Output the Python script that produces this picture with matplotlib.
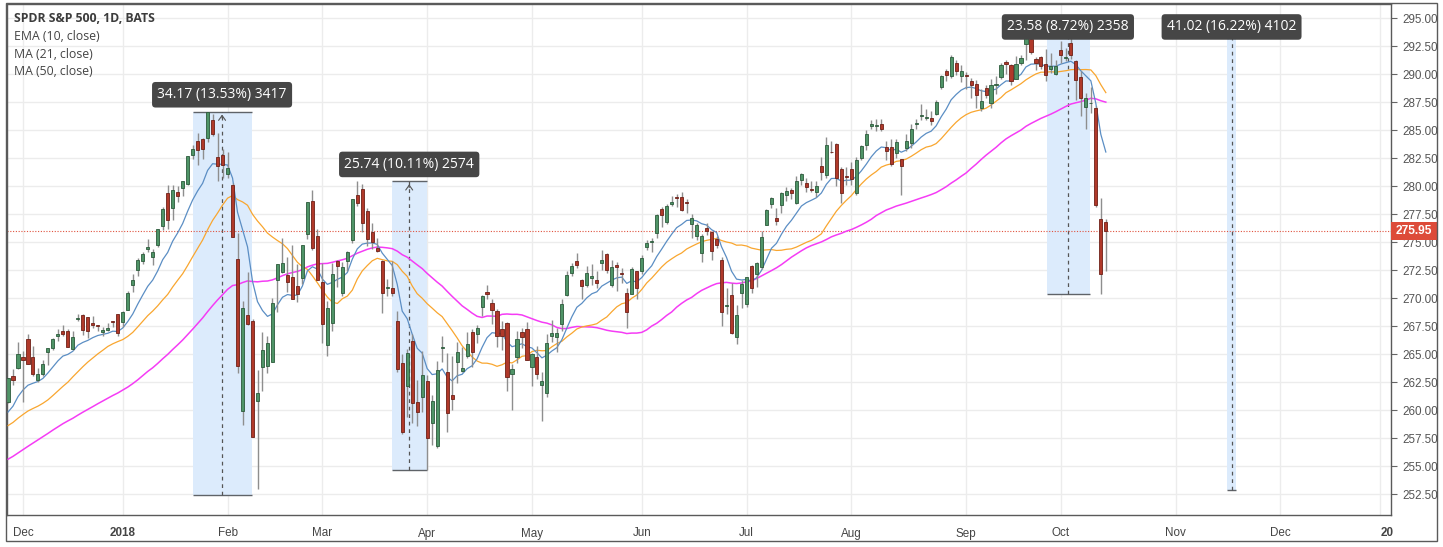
import matplotlib
matplotlib.use("Agg")
import matplotlib.pyplot as plt
import matplotlib.transforms as mtransforms
from matplotlib.patches import Rectangle
import numpy as np
import pandas as pd

# trading calendar (NYSE holidays in the window)
holidays = ["2017-12-25", "2018-01-01", "2018-01-15", "2018-02-19", "2018-03-30",
            "2018-05-28", "2018-07-04", "2018-09-03", "2018-11-22", "2018-12-25",
            "2019-01-01"]

# closes before the visible window, only needed to seed the moving averages
pre_close = [249.19, 249.63, 249.98, 250.06, 249.39, 249.44, 248.93, 249.08, 250.05, 250.35, 251.23,
             252.32, 252.86, 253.16, 254.66, 254.37, 253.95, 254.62, 255.02, 254.64, 254.95, 255.29,
             255.47, 255.72, 255.79, 257.11, 256.11, 256.56, 255.29, 255.62, 257.71, 256.75, 257.15,
             257.49, 257.59, 258.45, 258.85, 258.67, 259.11, 258.17, 258.09, 258.33, 257.73, 256.44,
             258.62, 257.86, 258.30, 260.00, 259.76, 260.36, 260.23]

# daily SPY candles, 2017-11-28 .. 2018-10-12
opens = [
    260.76, 263.02, 263.76,
    # dec
    264.76, 266.31, 264.72, 262.68, 263.20, 265.14, 265.58, 266.63, 267.06, 267.09, 265.45, 268.10,
    268.48, 268.27, 267.74, 267.60, 266.95, 267.14, 267.89, 268.53,
    # jan
    267.84, 268.96, 271.20, 272.51, 273.31, 274.40, 273.68, 274.75, 276.42, 279.35, 278.03, 279.48,
    279.80, 280.17, 282.74, 284.02, 284.16, 284.25, 285.93, 282.60, 282.73,
    # feb
    281.07, 280.08, 273.45, 259.94, 268.50, 267.97, 260.80, 263.83, 263.97, 264.31, 271.57, 272.32,
    272.03, 271.90, 271.10, 271.79, 275.75, 278.62, 275.57,
    # mar
    271.41, 265.80, 267.73, 273.30, 270.42, 273.33, 275.22, 279.20, 279.73, 277.81, 275.88, 274.50,
    273.35, 270.94, 270.90, 267.91, 264.17, 262.13, 266.17, 260.75, 261.12,
    # apr
    262.55, 258.87, 256.75, 265.55, 263.42, 261.37, 264.27, 263.47, 264.80, 267.00, 266.83, 269.17,
    270.56, 269.57, 268.81, 267.26, 267.76, 263.21, 264.76, 267.00, 267.26,
    # may
    263.87, 264.76, 262.26, 261.52, 266.65, 266.50, 267.68, 270.25, 272.25, 273.34, 271.61, 271.14,
    271.83, 271.61, 273.17, 273.96, 271.17, 272.95, 272.20, 270.44, 270.33, 272.38,
    # jun
    272.41, 274.53, 274.97, 275.79, 277.98, 276.79, 278.42, 279.00, 279.05, 278.53, 276.63, 275.50,
    274.00, 276.26, 275.89, 275.26, 273.44, 269.32, 270.23, 266.50, 270.43,
    # jul
    269.51, 272.87, 272.17, 272.76, 276.55, 278.40, 277.15, 278.28, 279.17, 279.64, 278.47, 280.56,
    280.31, 279.77, 279.45, 281.79, 280.97, 283.07, 283.71, 281.51, 280.81,
    # aug
    281.56, 279.38, 282.53, 283.64, 285.39, 285.39, 285.53, 283.45, 283.47, 282.92, 282.38, 283.40,
    283.83, 285.57, 286.25, 286.10, 286.07, 286.44, 288.86, 290.30, 289.85, 290.96, 289.84,
    # sep
    289.84, 289.41, 289.15, 286.98, 288.74, 287.37, 289.06, 289.69, 291.06, 290.81, 289.58, 291.00,
    292.64, 293.09, 291.34, 291.53, 290.91, 290.41, 289.99,
    # oct
    292.11, 291.45, 292.74, 291.18, 289.69, 287.05, 287.38, 286.94, 277.08, 276.77,
]
highs = [
    262.90, 263.63, 266.05,
    265.31, 266.80, 265.74, 263.75, 264.48, 265.52, 266.41, 267.22, 267.56, 267.22, 267.04, 268.60,
    268.53, 268.33, 268.39, 267.63, 267.41, 267.73, 267.92, 268.55,
    268.81, 270.64, 272.16, 273.56, 274.10, 275.25, 274.42, 276.12, 278.11, 280.09, 280.05, 279.96,
    280.41, 282.69, 283.62, 284.70, 284.27, 286.63, 286.43, 284.74, 283.30,
    283.06, 280.23, 275.85, 269.70, 272.36, 268.17, 263.61, 267.01, 266.62, 270.00, 273.04, 275.32,
    273.67, 274.72, 273.05, 274.71, 278.54, 279.64, 276.16,
    273.17, 269.72, 273.17, 273.39, 273.18, 274.24, 278.87, 280.41, 280.20, 278.02, 276.71, 275.39,
    273.40, 271.67, 273.27, 268.87, 265.02, 265.43, 266.77, 262.64, 265.26,
    263.13, 261.31, 264.36, 266.64, 265.11, 264.84, 266.04, 265.64, 267.00, 267.20, 267.62, 270.29,
    271.19, 269.88, 269.06, 267.92, 267.90, 264.14, 267.06, 267.34, 267.89,
    265.10, 265.68, 263.36, 266.79, 268.02, 267.32, 269.88, 272.39, 273.15, 274.02, 271.73, 272.85,
    273.06, 272.37, 274.25, 274.00, 273.39, 273.24, 272.68, 270.92, 272.74, 272.42,
    273.80, 275.14, 275.37, 277.52, 278.12, 278.41, 279.09, 279.33, 279.48, 278.84, 277.51, 276.70,
    275.75, 276.72, 276.00, 275.55, 273.62, 270.86, 271.38, 269.39, 271.64,
    271.88, 272.98, 273.18, 275.95, 277.96, 279.01, 278.04, 279.43, 279.93, 279.80, 280.91, 281.18,
    280.74, 280.48, 280.43, 282.56, 284.37, 284.02, 283.82, 281.69, 281.67,
    282.13, 282.58, 283.66, 284.99, 285.91, 285.99, 285.97, 284.06, 284.16, 284.17, 282.42, 284.61,
    285.56, 285.98, 287.31, 286.89, 286.67, 287.67, 289.90, 290.42, 291.74, 291.28, 290.81,
    290.21, 289.64, 289.49, 288.70, 289.04, 289.55, 289.80, 290.99, 291.27, 290.85, 291.58, 291.69,
    293.94, 293.22, 291.50, 291.65, 292.24, 291.91, 291.28,
    292.93, 292.36, 293.21, 291.24, 290.27, 288.28, 288.86, 287.14, 278.90, 277.09,
]
lows = [
    260.66, 262.20, 263.67,
    260.76, 264.08, 263.05, 262.48, 263.08, 264.03, 265.40, 266.20, 266.65, 265.60, 265.39, 267.98,
    266.69, 266.43, 267.30, 267.04, 266.64, 267.05, 267.45, 266.64,
    267.40, 268.96, 270.54, 271.95, 273.00, 274.08, 272.92, 274.56, 276.08, 276.18, 276.97, 278.58,
    279.14, 280.11, 282.37, 281.84, 282.41, 283.96, 284.50, 280.44, 280.68,
    280.68, 275.41, 263.31, 258.70, 267.58, 257.59, 252.92, 261.66, 263.31, 264.30, 268.77, 272.27,
    270.50, 269.94, 269.64, 271.25, 275.29, 274.31, 271.62,
    266.00, 264.82, 267.09, 270.96, 270.20, 272.41, 274.87, 278.19, 275.86, 274.67, 274.41, 274.14,
    268.62, 270.18, 270.19, 263.36, 257.83, 259.41, 258.84, 258.58, 259.84,
    254.67, 256.84, 256.60, 264.32, 258.00, 259.99, 262.40, 263.39, 264.69, 263.84, 265.95, 268.38,
    269.91, 267.71, 265.59, 265.34, 261.67, 259.97, 264.22, 265.53, 264.43,
    262.11, 262.76, 259.05, 261.15, 266.11, 265.15, 267.03, 270.19, 271.97, 272.70, 269.88, 271.00,
    271.13, 270.94, 272.53, 272.21, 270.99, 270.66, 271.30, 267.35, 270.33, 269.91,
    272.15, 274.25, 274.10, 275.35, 276.32, 276.58, 278.19, 278.15, 277.79, 277.63, 275.35, 275.18,
    273.22, 275.59, 273.37, 274.50, 267.50, 268.55, 266.82, 265.93, 269.08,
    269.24, 270.42, 270.96, 272.56, 276.50, 278.08, 276.52, 277.60, 278.66, 278.84, 278.41, 280.06,
    279.46, 279.50, 279.06, 280.55, 280.72, 282.93, 279.97, 278.52, 280.05,
    280.13, 279.16, 282.33, 283.20, 285.06, 284.92, 284.92, 282.36, 281.77, 282.48, 279.16, 283.17,
    283.37, 285.06, 285.87, 285.93, 285.49, 286.38, 288.68, 289.40, 289.65, 289.92, 289.29,
    288.68, 287.89, 287.00, 286.71, 287.88, 286.98, 288.23, 289.55, 290.00, 289.01, 289.55, 290.83,
    291.24, 291.81, 290.37, 290.48, 289.41, 290.10, 289.95,
    290.98, 291.14, 291.32, 287.66, 286.22, 285.08, 286.48, 278.10, 270.36, 272.37,
]
closes = [
    262.87, 262.71, 265.01,
    264.46, 264.14, 263.19, 263.24, 264.07, 265.51, 266.31, 266.78, 266.75, 265.66, 266.51, 268.20,
    267.17, 267.03, 267.58, 267.51, 267.19, 267.32, 267.87, 266.86,
    268.77, 270.47, 271.61, 273.42, 273.92, 274.54, 274.12, 276.12, 277.92, 276.97, 279.61, 279.14,
    280.41, 282.69, 283.29, 283.18, 283.30, 286.58, 284.68, 281.76, 281.90,
    281.58, 275.45, 263.93, 269.13, 267.67, 257.63, 261.50, 265.34, 266.00, 269.59, 273.03, 273.11,
    271.40, 269.88, 270.40, 274.71, 278.53, 274.43, 271.65,
    267.70, 269.08, 272.19, 272.88, 272.78, 274.10, 278.87, 278.52, 276.72, 275.30, 275.00, 274.20,
    270.49, 270.95, 270.43, 263.67, 258.05, 265.11, 260.60, 259.83, 263.15,
    257.47, 260.77, 263.56, 265.64, 259.72, 261.00, 265.15, 263.76, 265.93, 265.15, 267.33, 270.19,
    270.39, 268.89, 266.61, 266.57, 262.98, 263.63, 266.31, 266.56, 264.51,
    264.98, 263.20, 262.62, 266.02, 266.92, 266.92, 269.50, 272.02, 272.85, 272.98, 271.10, 272.24,
    272.01, 271.33, 273.37, 272.49, 272.80, 272.76, 272.15, 268.78, 272.61, 270.94,
    273.60, 274.90, 275.10, 277.40, 277.37, 278.19, 278.56, 278.92, 277.87, 278.52, 277.13, 276.56,
    275.50, 275.97, 274.24, 274.74, 268.77, 269.35, 266.87, 268.52, 271.28,
    271.86, 270.90, 273.11, 275.42, 277.90, 278.90, 276.86, 279.37, 279.59, 279.34, 280.47, 281.06,
    279.90, 279.68, 279.96, 281.28, 283.64, 283.01, 280.73, 279.39, 280.79,
    280.61, 282.30, 283.60, 284.64, 285.58, 285.46, 285.07, 283.16, 281.99, 283.90, 281.78, 284.06,
    285.07, 285.67, 286.34, 286.17, 285.79, 287.51, 289.78, 289.92, 291.48, 290.30, 290.31,
    289.81, 289.03, 288.16, 287.60, 288.10, 289.05, 289.12, 290.83, 290.88, 289.34, 290.91, 291.44,
    293.58, 291.99, 291.02, 290.75, 289.88, 290.69, 290.72,
    291.73, 291.56, 291.72, 289.44, 287.82, 287.82, 287.40, 278.30, 272.17, 275.95,
]

# price-range measurements (bar positions / prices / label)
box_x0 = [37.1, 77.0, 208.3, 244.3]
box_x1 = [48.9, 84.0, 216.9, 246.1]
box_mid = [42.9, 80.4, 212.4, 245.2]
box_top = [286.63, 280.41, 293.94, 293.92]
box_bot = [252.46, 254.67, 270.36, 252.90]
box_text = ["34.17 (13.53%) 3417", "25.74 (10.11%) 2574", "23.58 (8.72%) 2358", "41.02 (16.22%) 4102"]

last_price = 275.95

O = np.array(opens); H = np.array(highs); L = np.array(lows); C = np.array(closes)
n = len(C)
x = np.arange(n)

allc = pd.Series(pre_close + closes)
npre = len(pre_close)
ema10 = allc.ewm(span=10, adjust=False).mean().values[npre:]
ma21 = allc.rolling(21).mean().values[npre:]
ma50 = allc.rolling(50).mean().values[npre:]

days = pd.bdate_range("2017-11-28", "2019-01-15", freq="C", holidays=holidays)

W, Hpx = 1443, 547
fig = plt.figure(figsize=(W / 100, Hpx / 100), dpi=100)
ax = fig.add_axes([6.5 / W, 32 / Hpx, (1391 - 6.5) / W, (515 - 4) / Hpx])

ax.set_xlim(-0.3, 277.15)
ax.set_ylim(250.63, 296.25)

# grid
ax.set_axisbelow(True)
ax.grid(True, color="#ececec", lw=1)

# month ticks: first trading day of each month
tick_pos, tick_lab = [], []
d = pd.Series(days)
for (yy, mm), grp in d.groupby([d.dt.year, d.dt.month]):
    i = grp.index[0]
    if i < 1 or i > 276:
        continue
    tick_pos.append(i)
    tick_lab.append(str(yy) if mm == 1 else grp.iloc[0].strftime("%b"))
ax.set_xticks(tick_pos)
ax.set_xticklabels([("20" if s == "2019" else s) for s in tick_lab])
for t, s in zip(ax.get_xticklabels(), tick_lab):
    if s.isdigit():
        t.set_fontweight("bold")
    if s == "2019":
        t.set_horizontalalignment("left")

ax.set_yticks(np.arange(252.5, 295.01, 2.5))
ax.set_yticklabels(["%.2f" % v for v in np.arange(252.5, 295.01, 2.5)])
ax.yaxis.tick_right()
ax.tick_params(axis="y", length=4, color="#666666", labelsize=8.4, labelcolor="#555555", pad=4)
ax.tick_params(axis="x", length=0, labelsize=8.4, labelcolor="#444444", pad=9)
for lab in ax.get_xticklabels() + ax.get_yticklabels():
    lab.set_fontfamily("Liberation Sans")

for s in ax.spines.values():
    s.set_color("#5a5a5a")
    s.set_linewidth(1)

# measurement boxes
for i in range(len(box_text)):
    ax.add_patch(Rectangle((box_x0[i], box_bot[i]), box_x1[i] - box_x0[i], box_top[i] - box_bot[i],
                           facecolor="#dcebfc", edgecolor="none", zorder=1))
    ax.hlines([box_top[i], box_bot[i]], box_x0[i], box_x1[i], color="#5f6368", lw=1, zorder=2)
    ax.plot([box_mid[i], box_mid[i]], [box_bot[i], box_top[i]], color="#555555", lw=0.9,
            dashes=(3, 3), zorder=2)
    ax.annotate("", xy=(box_mid[i], box_top[i]), xytext=(box_mid[i], box_top[i] - 0.8),
                arrowprops=dict(arrowstyle="->,head_length=0.35,head_width=0.25", color="#555555", lw=0.8),
                zorder=2)

# red last-price line
ax.axhline(last_price, color="#e0533f", lw=0.8, ls=(0, (1, 1.5)), zorder=2)

# moving averages
ax.plot(x, ma50, color="#f53cf5", lw=1.1, zorder=3)
ax.plot(x, ma21, color="#f9a62f", lw=0.9, zorder=3)
ax.plot(x, ema10, color="#5b8ec4", lw=0.9, zorder=3)

# candles
up = C >= O
body_lo = np.minimum(O, C)
body_h = np.maximum(np.abs(C - O), 0.07)
ax.vlines(x, L, H, color="#8e8e8e", lw=1, zorder=4)
ax.bar(x[up], body_h[up], bottom=body_lo[up], width=0.62, color="#4f9467",
       edgecolor="#2c5a3b", linewidth=0.6, zorder=5)
ax.bar(x[~up], body_h[~up], bottom=body_lo[~up], width=0.62, color="#b0392a",
       edgecolor="#6e2017", linewidth=0.6, zorder=5)

# measurement labels
px_per_unit = (515 - 4) / (296.25 - 250.63)
for i in range(len(box_text)):
    ly = min(box_top[i] + 17 / px_per_unit, 294.2)
    ax.text(box_mid[i], ly, box_text[i], ha="center", va="center", color="white",
            fontsize=10, family="Open Sans", zorder=8,
            bbox=dict(boxstyle="round,pad=0.38,rounding_size=0.25", fc="#464646", ec="none"))

# last price tag on the price scale
trans = mtransforms.blended_transform_factory(ax.transAxes, ax.transData)
ax.add_patch(Rectangle((1.0, last_price - 9 / px_per_unit), 46 / 1384.5, 18 / px_per_unit,
                       transform=trans, facecolor="#dd4b39", edgecolor="none", clip_on=False, zorder=10))
ax.text(1.0 + 23 / 1384.5, last_price, "%.2f" % last_price, transform=trans, ha="center", va="center",
        color="white", fontsize=8.6, fontweight="bold", family="Liberation Sans", zorder=11, clip_on=False)

# outer frame of the whole chart
fig.patches.append(Rectangle((6 / W, 6 / Hpx), 1431 / W, 538 / Hpx, transform=fig.transFigure,
                             fill=False, edgecolor="#5a5a5a", lw=1))

# legend lines
fig.text(14 / W, 1 - 19 / Hpx, "SPDR S&P 500, 1D, BATS", fontsize=8.8, fontweight="bold",
         color="#3c3c3c", family="Open Sans", va="center")
for k, s in enumerate(["EMA (10, close)", "MA (21, close)", "MA (50, close)"]):
    fig.text(14 / W, 1 - (37 + 17.3 * k) / Hpx, s, fontsize=8.8, color="#444444",
             family="Open Sans", va="center")

fig.savefig("out.png", dpi=100, facecolor="white")
